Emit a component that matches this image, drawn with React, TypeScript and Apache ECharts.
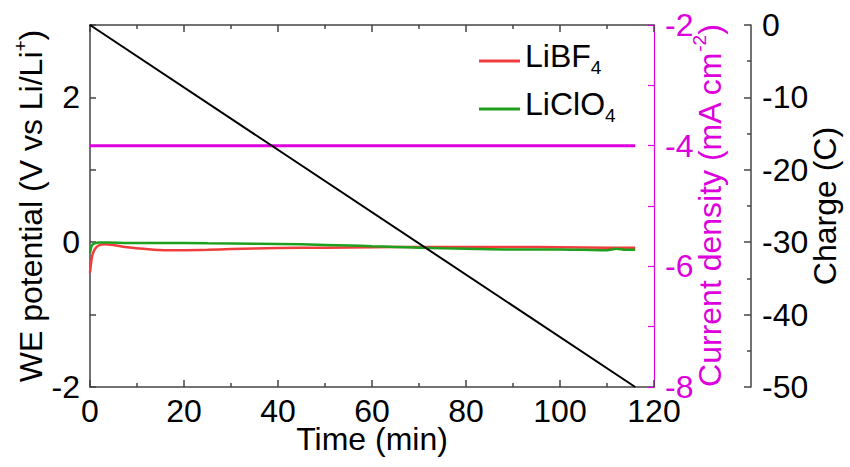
import React, { useEffect, useRef } from "react";
import * as echarts from "echarts";

// ---- data ----
const xTicks = [0, 20, 40, 60, 80, 100, 120];

const libf4Time = [0, 0.2, 0.5, 1, 1.5, 2, 3, 5, 8, 12, 16, 20, 25, 30, 40, 50, 60, 70, 80, 90, 100, 110, 116];
const libf4Potential = [-0.42, -0.3, -0.18, -0.1, -0.06, -0.04, -0.03, -0.04, -0.07, -0.095, -0.11, -0.11, -0.105, -0.095, -0.08, -0.075, -0.07, -0.065, -0.065, -0.065, -0.07, -0.075, -0.075];

const liclo4Time = [0, 0.3, 0.6, 1, 2, 4, 8, 15, 25, 35, 45, 55, 60, 65, 70, 75, 80, 90, 100, 105, 110, 112, 114, 116];
const liclo4Potential = [-0.15, -0.06, -0.03, -0.015, -0.005, -0.005, -0.01, -0.01, -0.015, -0.02, -0.03, -0.045, -0.055, -0.065, -0.075, -0.085, -0.09, -0.1, -0.1, -0.105, -0.11, -0.09, -0.105, -0.105];

const currentTime = [0, 116];
const currentDensity = [-4, -4];

const chargeTime = [0, 116];
const chargeValue = [0, -50];

const FONT = "'Liberation Sans', Arial, sans-serif";
const MAGENTA = "#dd00dd";
const AXIS = "#444";

const zip = (a: number[], b: number[]) => a.map((v, i) => [v, b[i]]);

export default function App() {
  const ref = useRef<HTMLDivElement>(null);
  useEffect(() => {
    if (!ref.current) return;
    const chart = echarts.init(ref.current, undefined, { renderer: "svg" });
    const main = { fontFamily: FONT, fontSize: 32, lineHeight: 32 };
    const option: any = {
      animation: false,
      textStyle: { fontFamily: FONT },
      grid: { left: 90, right: 196, top: 25, bottom: 80, containLabel: false, outerBoundsMode: "none" },
      legend: {
        data: ["LiBF4", "LiClO4"],
        orient: "vertical",
        left: 479,
        top: 40,
        padding: 0,
        itemGap: 6,
        itemWidth: 41,
        itemHeight: 3,
        icon: "rect",
        formatter: (n: string) => (n === "LiBF4" ? "{m|LiBF}{s|4}" : "{m|LiClO}{s|4}"),
        textStyle: {
          color: "#000",
          rich: {
            m: { ...main, color: "#000", padding: [0, 0, 10, 0] },
            s: { fontFamily: FONT, fontSize: 19, lineHeight: 26, verticalAlign: "bottom", color: "#000" },
          },
        },
      },
      xAxis: [
        {
          type: "value",
          min: xTicks[0],
          max: xTicks[xTicks.length - 1],
          interval: 20,
          position: "bottom",
          axisLine: { show: true, onZero: false, lineStyle: { color: AXIS, width: 1.5 } },
          axisTick: { show: true, inside: true, length: 7, lineStyle: { color: AXIS, width: 1.5 } },
          minorTick: { show: true, splitNumber: 2, length: 4, lineStyle: { color: AXIS, width: 1.5 } },
          splitLine: { show: false },
          axisLabel: { color: "#000", fontSize: 32, fontFamily: FONT, margin: 8 },
          name: "Time (min)",
          nameLocation: "middle",
          nameGap: 36,
          nameMoveOverlap: false,
          nameTextStyle: { color: "#000", fontSize: 32, fontFamily: FONT, lineHeight: 32 },
        },
        {
          type: "value",
          min: xTicks[0],
          max: xTicks[xTicks.length - 1],
          interval: 20,
          position: "top",
          axisLine: { show: true, onZero: false, lineStyle: { color: AXIS, width: 1.5 } },
          axisTick: { show: true, inside: true, length: 7, lineStyle: { color: AXIS, width: 1.5 } },
          minorTick: { show: true, splitNumber: 2, length: 4, lineStyle: { color: AXIS, width: 1.5 } },
          splitLine: { show: false },
          axisLabel: { show: false },
        },
      ],
      yAxis: [
        {
          type: "value",
          min: -2,
          max: 3,
          interval: 1,
          position: "left",
          axisLine: { show: true, onZero: false, lineStyle: { color: AXIS, width: 1.5 } },
          axisTick: { show: true, inside: true, length: 6, lineStyle: { color: AXIS, width: 1.5 } },
          splitLine: { show: false },
          axisLabel: {
            color: "#000",
            fontSize: 32,
            fontFamily: FONT,
            margin: 10,
            formatter: (v: number) => (v === -2 || v === 0 || v === 2 ? String(v) : ""),
          },
          name: "{m|WE potential (V vs Li/Li}{s|+}{m|)}",
          nameLocation: "middle",
          nameGap: 47,
          nameMoveOverlap: false,
          nameTextStyle: {
            color: "#000",
            rich: {
              m: { ...main, color: "#000", padding: [8, 0, 0, 0] },
              s: { fontFamily: FONT, fontSize: 19, lineHeight: 20, verticalAlign: "top", color: "#000" },
            },
          },
        },
        {
          type: "value",
          min: -8,
          max: -2,
          interval: 1,
          position: "right",
          axisLine: { show: true, onZero: false, lineStyle: { color: MAGENTA, width: 1.2 } },
          axisTick: { show: true, inside: true, length: 6, lineStyle: { color: MAGENTA, width: 1.2 } },
          splitLine: { show: false },
          axisLabel: {
            color: MAGENTA,
            fontSize: 32,
            fontFamily: FONT,
            margin: 11,
            formatter: (v: number) => (v % 2 === 0 ? String(v) : ""),
          },
          name: "{m|Current density (mA cm}{s|-2}{m|)}",
          nameLocation: "middle",
          nameGap: 36,
          nameMoveOverlap: false,
          nameTextStyle: {
            color: MAGENTA,
            rich: {
              m: { ...main, color: MAGENTA, padding: [8, 0, 0, 0] },
              s: { fontFamily: FONT, fontSize: 19, lineHeight: 20, verticalAlign: "top", color: MAGENTA },
            },
          },
        },
        {
          type: "value",
          min: -50,
          max: 0,
          interval: 10,
          position: "right",
          offset: 97,
          axisLine: { show: true, onZero: false, lineStyle: { color: AXIS, width: 1.5 } },
          axisTick: { show: true, inside: true, length: 7, lineStyle: { color: AXIS, width: 1.5 } },
          minorTick: { show: true, splitNumber: 2, length: 4, lineStyle: { color: AXIS, width: 1.5 } },
          splitLine: { show: false },
          axisLabel: { color: "#000", fontSize: 32, fontFamily: FONT, margin: 11 },
          name: "Charge (C)",
          nameLocation: "middle",
          nameGap: 58,
          nameMoveOverlap: false,
          nameTextStyle: { color: "#000", fontSize: 32, fontFamily: FONT, lineHeight: 32 },
        },
      ],
      series: [
        {
          name: "LiBF4",
          type: "line",
          xAxisIndex: 0,
          yAxisIndex: 0,
          data: zip(libf4Time, libf4Potential),
          showSymbol: false,
          smooth: 0.3,
          color: "#f03c3c",
          lineStyle: { width: 2.5, color: "#f03c3c" },
        },
        {
          name: "LiClO4",
          type: "line",
          xAxisIndex: 0,
          yAxisIndex: 0,
          data: zip(liclo4Time, liclo4Potential),
          showSymbol: false,
          smooth: 0.3,
          color: "#1ea01e",
          lineStyle: { width: 2.5, color: "#1ea01e" },
        },
        {
          name: "Current density",
          type: "line",
          xAxisIndex: 0,
          yAxisIndex: 1,
          data: zip(currentTime, currentDensity),
          showSymbol: false,
          color: MAGENTA,
          lineStyle: { width: 3, color: MAGENTA },
        },
        {
          name: "Charge",
          type: "line",
          xAxisIndex: 0,
          yAxisIndex: 2,
          data: zip(chargeTime, chargeValue),
          showSymbol: false,
          color: "#000",
          lineStyle: { width: 2, color: "#000" },
        },
      ],
    };
    chart.setOption(option);
    return () => chart.dispose();
  }, []);
  return (
    <div
      ref={ref}
      style={{ position: "fixed", left: 0, top: 0, width: 850, height: 467, background: "#fff" }}
    />
  );
}
